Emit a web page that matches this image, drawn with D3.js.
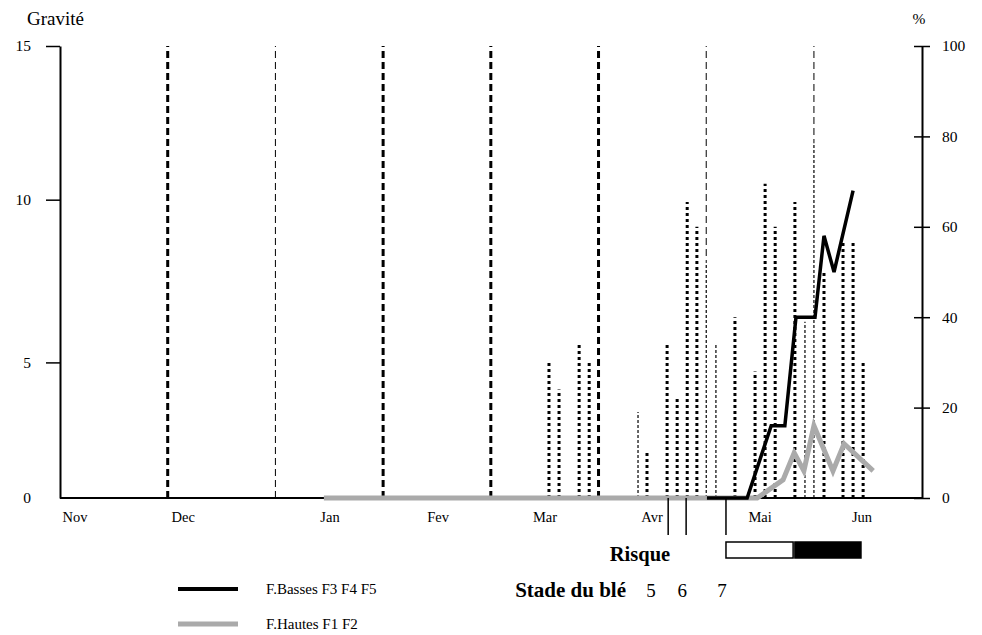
<!DOCTYPE html>
<html><head><meta charset="utf-8">
<script src="https://cdn.jsdelivr.net/npm/d3@7"></script>
<style>body{margin:0;background:#fff}svg{display:block;font-family:"Liberation Serif","Times New Roman",serif}</style>
</head><body><svg id="c" width="982" height="635"></svg>
<script>
// ---- data (x in days since 1 Nov, y in %) ----
const months = ["Nov","Dec","Jan","Fev","Mar","Avr","Mai","Jun"];
const monthLabelDay = [4.2, 34.3, 75.2, 105.3, 135.1, 164.9, 195, 223.4];
const markerDay = [30, 60, 90, 120, 150, 180, 210];
const markerType = ["fort","faible","fort","fort","fort","faible","faible"];
const rainDay = [136.2,139.0,144.6,147.4,163.5,169.1,171.9,174.7,177.4,188.0,193.6,196.4,199.2,204.7,212.8,218.1,220.9,223.7];
const rainValue = [30,24,34,30,10,34,22,65.5,60,40,28,69.5,60,65.5,50,57,56.4,30];
const rainFineDay = [161.0,180,182.7,207.5,210];
const rainFineValue = [19,52,34,39,78.5];
const bassesDay = [180.2,191.4,198.1,201.9,205.0,210.3,212.8,215.6,220.9];
const bassesValue = [0,0,16,16,40,40,58,50,68];
const hautesDay = [73.5,194.2,201.4,204.5,207.2,210,215.3,218.4,226.5];
const hautesValue = [0,0,4,10,6,16,6,12,6];
const gravTicks = [0,5,10,15];
const gravPos = [0,30,66,100]; // where each gravity tick sits on the % scale
const pctTicks = [0,20,40,60,80,100];
const stageLabels = ["5","6","7"];
const stageDay = [169.4,174.4,185.5];
const stageLabelDay = [164.6,173.3,184.4];
const riskStart = [185.5,204.7];
const riskEnd = [204.2,223.1];
const riskLevel = ["moyen","fort"];
const seriesNames = ["F.Basses F3 F4 F5","F.Hautes F1 F2"];

// ---- layout ----
const svg = d3.select("#c");
const x = d3.scaleLinear().domain([0,240.1]).range([60,922]);
const yP = d3.scaleLinear().domain([0,100]).range([498,46]);
const yG = d3.scaleLinear().domain(gravTicks).range(gravPos.map(v=>yP(v)));
const BLACK="#000", GREY="#aaaaaa";

// month marker lines
svg.append("g").selectAll("line").data(markerDay).join("line")
  .attr("x1",d=>x(d)).attr("x2",d=>x(d))
  .attr("y1",yP(0)).attr("y2",yP(100))
  .attr("stroke",BLACK)
  .attr("stroke-width",(d,i)=>markerType[i]==="fort"?3:1)
  .attr("stroke-dasharray","7,4");

// fine rain bars (white underlay to hide marker beneath)
const fine = svg.append("g");
fine.selectAll("line.u").data(rainFineDay).join("line").attr("class","u")
  .attr("x1",d=>x(d)).attr("x2",d=>x(d))
  .attr("y1",yP(0)).attr("y2",(d,i)=>yP(rainFineValue[i]))
  .attr("stroke","#fff").attr("stroke-width",3);
fine.selectAll("line.f").data(rainFineDay).join("line").attr("class","f")
  .attr("x1",d=>x(d)).attr("x2",d=>x(d))
  .attr("y1",yP(0)).attr("y2",(d,i)=>yP(rainFineValue[i]))
  .attr("stroke",BLACK).attr("stroke-width",1.2).attr("stroke-dasharray","3,2");

// rain bars (dotted)
svg.append("g").selectAll("line").data(rainDay).join("line")
  .attr("x1",d=>x(d)).attr("x2",d=>x(d))
  .attr("y1",yP(0)).attr("y2",(d,i)=>yP(rainValue[i]))
  .attr("stroke",BLACK).attr("stroke-width",3).attr("stroke-dasharray","3,3");

// axes
const axL = svg.append("g").attr("transform",`translate(${x(0)},0)`)
  .call(d3.axisLeft(yG).tickValues(gravTicks).tickSize(14).tickSizeOuter(0).tickPadding(15));
const axR = svg.append("g").attr("transform",`translate(${x(240.1)},0)`)
  .call(d3.axisRight(yP).tickValues(pctTicks).tickSize(8).tickSizeOuter(0).tickPadding(12));
axR.selectAll(".tick line").attr("x1",-8).attr("x2",8);
[axL,axR].forEach(a=>{
  a.select(".domain").attr("stroke",BLACK).attr("stroke-width",2);
  a.selectAll(".tick line").attr("stroke",BLACK).attr("stroke-width",1.5);
  a.selectAll("text").attr("font-family","Liberation Serif").attr("font-size",15.5).attr("fill","#000");
});
axL.selectAll(".tick").filter(d=>d===0).select("line").remove();
// baseline
svg.append("line").attr("x1",x(0)).attr("x2",x(240.1)).attr("y1",yP(0)).attr("y2",yP(0))
  .attr("stroke",BLACK).attr("stroke-width",2);
// month labels
svg.append("g").selectAll("text").data(months).join("text")
  .attr("x",(d,i)=>x(monthLabelDay[i])).attr("y",522)
  .attr("text-anchor","middle").attr("font-size",14.5).text(d=>d);
// axis titles
svg.append("text").attr("x",27).attr("y",25).attr("font-size",19).text("Gravité");
svg.append("text").attr("x",919).attr("y",24).attr("font-size",15.5).attr("text-anchor","middle").text("%");

// series lines
const line = (days,vals)=>d3.line().x((d,i)=>x(days[i])).y((d,i)=>yP(vals[i]))(vals);
svg.append("path").attr("d",line(hautesDay,hautesValue)).attr("fill","none")
  .attr("stroke",GREY).attr("stroke-width",5).attr("stroke-linejoin","miter");
svg.append("path").attr("d",line(bassesDay,bassesValue)).attr("fill","none")
  .attr("stroke",BLACK).attr("stroke-width",3.5).attr("stroke-linejoin","miter");

// stage markers
svg.append("g").selectAll("line").data(stageDay).join("line")
  .attr("x1",d=>x(d)).attr("x2",d=>x(d)).attr("y1",yP(0)).attr("y2",535)
  .attr("stroke",BLACK).attr("stroke-width",1.5);
svg.append("g").selectAll("text").data(stageLabels).join("text")
  .attr("x",(d,i)=>x(stageLabelDay[i])).attr("y",597).attr("font-size",19)
  .attr("text-anchor","middle").text(d=>d);
svg.append("text").attr("x",626).attr("y",597).attr("text-anchor","end")
  .attr("font-size",21).attr("font-weight","bold").text("Stade du blé");
svg.append("text").attr("x",640).attr("y",561).attr("text-anchor","middle")
  .attr("font-size",20.5).attr("font-weight","bold").text("Risque");
// risk boxes
svg.append("g").selectAll("rect").data(riskLevel).join("rect")
  .attr("x",(d,i)=>x(riskStart[i])).attr("width",(d,i)=>x(riskEnd[i])-x(riskStart[i]))
  .attr("y",542).attr("height",16)
  .attr("fill",d=>d==="fort"?BLACK:"#fff").attr("stroke",BLACK).attr("stroke-width",1.5);

// legend
const lg = svg.append("g");
[BLACK,GREY].forEach((c,i)=>{
  lg.append("line").attr("x1",178).attr("x2",238).attr("y1",589+i*35).attr("y2",589+i*35)
    .attr("stroke",c).attr("stroke-width",i?5:4);
  lg.append("text").attr("x",266).attr("y",594+i*35).attr("font-size",15).text(seriesNames[i]);
});
</script></body></html>
